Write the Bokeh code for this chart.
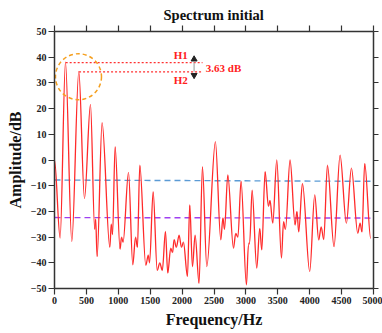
from bokeh.plotting import figure
from bokeh.models import LinearAxis, FixedTicker
from bokeh.core.properties import value
from bokeh.embed import file_html
from bokeh.resources import INLINE

# ---- data (peaks / troughs of the spectrum) ----
freq = [0, 88, 172, 271, 381, 470, 564, 630, 645, 668, 746, 867, 890, 910, 950,
        1028, 1050, 1075, 1160, 1227, 1270, 1300, 1337, 1431, 1470, 1490, 1546,
        1610, 1650, 1690, 1739, 1775, 1822, 1850, 1875, 1910, 1953, 1990, 2021,
        2084, 2120, 2162, 2204, 2266, 2319, 2387, 2522, 2606, 2640, 2665, 2716,
        2805, 2840, 2875, 2924, 3008, 3040, 3060, 3097, 3170, 3217, 3249, 3301,
        3353, 3378, 3421, 3484, 3557, 3590, 3620, 3692, 3771, 3800, 3828, 3886,
        4000, 4079, 4141, 4180, 4220, 4278, 4381, 4476, 4575, 4654, 4753, 4790,
        4820, 4862, 4956]
amp = [0, -30.4, 38.1, -31.7, 34.5, -15, 21.6, -27, -23, -37.6, 14.5, -34, -25, -29, 5.2,
       -34.7, -30, -32, -4.8, -40.8, -30, -34, -2, -41, -37, -40, -12.3,
       -43, -40, -43, -27.8, -44, -34.3, -36, -31, -34, -29.2, -34, -32,
       -45.3, -17.5, -41.5, -29.2, -48, -2.6, -41.5, 7.1, -31.1, -22.5, -27, -5.8,
       -34.3, -28.6, -30, -8.2, -48.6, -33, -32, -11.7, -42.1, -26.6, -35, -4.5,
       -18, -15.7, -24.6, 0, -38.2, -24, -27, 0, -25.3, -20, -28, -9.1,
       -43.4, -13.6, -31.1, -26, -31, -2, -33.7, 1.9, -24.6, -3.2, -28.5, -24.6,
       -28, -1.3, -30.5]

x_ticks = [0, 500, 1000, 1500, 2000, 2500, 3000, 3500, 4000, 4500, 5000]
y_ticks = [-50, -40, -30, -20, -10, 0, 10, 20, 30, 40, 50]

blue_level = [-7.8, -8.3]      # at x = 0 and 5000
purple_level = [-22.4, -22.6]
level_x = [0, 5000]

h1 = (175, 37.9)
h2 = (385, 34.3)
h_line_end = 2320
arrow_x = 2188
diff_text = "3.63 dB"
circle_center = (376, 32.4)

SERIF = "Liberation Serif"

p = figure(width=382, height=333, x_range=(0, 5000), y_range=(-50, 50),
           output_backend="svg", toolbar_location=None,
           min_border_left=54, min_border_right=9, min_border_top=31, min_border_bottom=45,
           title="Spectrum  initial")
p.title.text_font = SERIF
p.title.text_font_style = "bold"
p.title.text_font_size = "14.5px"
p.title.text_color = "#111111"
p.title.align = "left"
p.title.offset = 109
p.title.standoff = 5
p.xgrid.visible = False
p.ygrid.visible = False
p.outline_line_color = None

def style_axis(ax, ticks, labels=True):
    ax.ticker = FixedTicker(ticks=ticks)
    ax.minor_tick_line_color = None
    ax.major_tick_out = 6
    ax.major_tick_in = 0
    ax.axis_line_color = "#333333"
    ax.axis_line_width = 1.5
    ax.major_tick_line_color = "#333333"
    ax.major_tick_line_width = 1.2
    if labels:
        ax.major_label_text_font = SERIF
        ax.major_label_text_font_style = "bold"
        ax.major_label_text_font_size = "10px"
        ax.major_label_text_color = "#222222"
        ax.major_label_standoff = 2
        ax.axis_label_text_font = SERIF
        ax.axis_label_text_font_style = "bold"
        ax.axis_label_text_font_size = "16px"
        ax.axis_label_text_color = "#111111"
    else:
        ax.major_label_text_color = None
        ax.major_label_text_font_size = "1px"
        ax.major_label_standoff = 0
        ax.axis_label_standoff = 0

style_axis(p.xaxis[0], x_ticks)
style_axis(p.yaxis[0], y_ticks)
p.xaxis.axis_label = "Frequency/Hz"
p.yaxis.axis_label = "Amplitude/dB"
p.xaxis.axis_label_standoff = 4
p.yaxis.axis_label_standoff = 4

top = LinearAxis()
style_axis(top, x_ticks, labels=False)
p.add_layout(top, "above")
right = LinearAxis()
style_axis(right, y_ticks, labels=False)
right.major_tick_out = 5
p.add_layout(right, "right")

# reference levels
p.line(level_x, blue_level, line_color="#5b9bd5", line_dash="6 4", line_width=1.4)
p.line(level_x, purple_level, line_color="#a040f0", line_dash="6 4", line_width=1.4)

# spectrum: smooth curve through the read extrema (bezier with flat tangents)
x0 = freq[:-1]; x1 = freq[1:]
y0 = amp[:-1]; y1 = amp[1:]
cx0 = [a + (b - a) / 3 for a, b in zip(x0, x1)]
cx1 = [b - (b - a) / 3 for a, b in zip(x0, x1)]
p.bezier(x0=x0, y0=y0, x1=x1, y1=y1, cx0=cx0, cy0=y0, cx1=cx1, cy1=y1,
         line_color="#ff2a2a", line_width=1.3)

# H1/H2 markers
p.line([h1[0], h_line_end], [h1[1], h1[1]], line_color="#ff3030", line_dash="2 2", line_width=1.2)
p.line([h2[0], h_line_end], [h2[1], h2[1]], line_color="#ff3030", line_dash="2 2", line_width=1.2)
p.segment([arrow_x], [h1[1]], [arrow_x], [h2[1]], line_color="#aaaaaa", line_width=1.2)
p.scatter([arrow_x], [h1[1] + 1.3], marker="triangle", size=6, fill_color="#222222", line_color="#222222")
p.scatter([arrow_x], [h2[1] - 1.3], marker="inverted_triangle", size=6, fill_color="#222222", line_color="#222222")

p.text([1979], [40.7], text=["H1"], text_font=value(SERIF), text_font_style="bold",
       text_font_size="11px", text_color="#ff2020", text_align="center", text_baseline="middle")
p.text([1979], [31.0], text=["H2"], text_font=value(SERIF), text_font_style="bold",
       text_font_size="11px", text_color="#ff2020", text_align="center", text_baseline="middle")
p.text([2371], [35.9], text=[diff_text], text_font=value(SERIF), text_font_style="bold",
       text_font_size="11px", text_color="#ff2020", text_align="left", text_baseline="middle")

p.circle(x=[circle_center[0]], y=[circle_center[1]], radius=23, radius_units="screen",
         fill_color=None, line_color="#f5a020", line_dash="4 3", line_width=1.5)

open("out.html", "w").write(file_html(p, INLINE))
